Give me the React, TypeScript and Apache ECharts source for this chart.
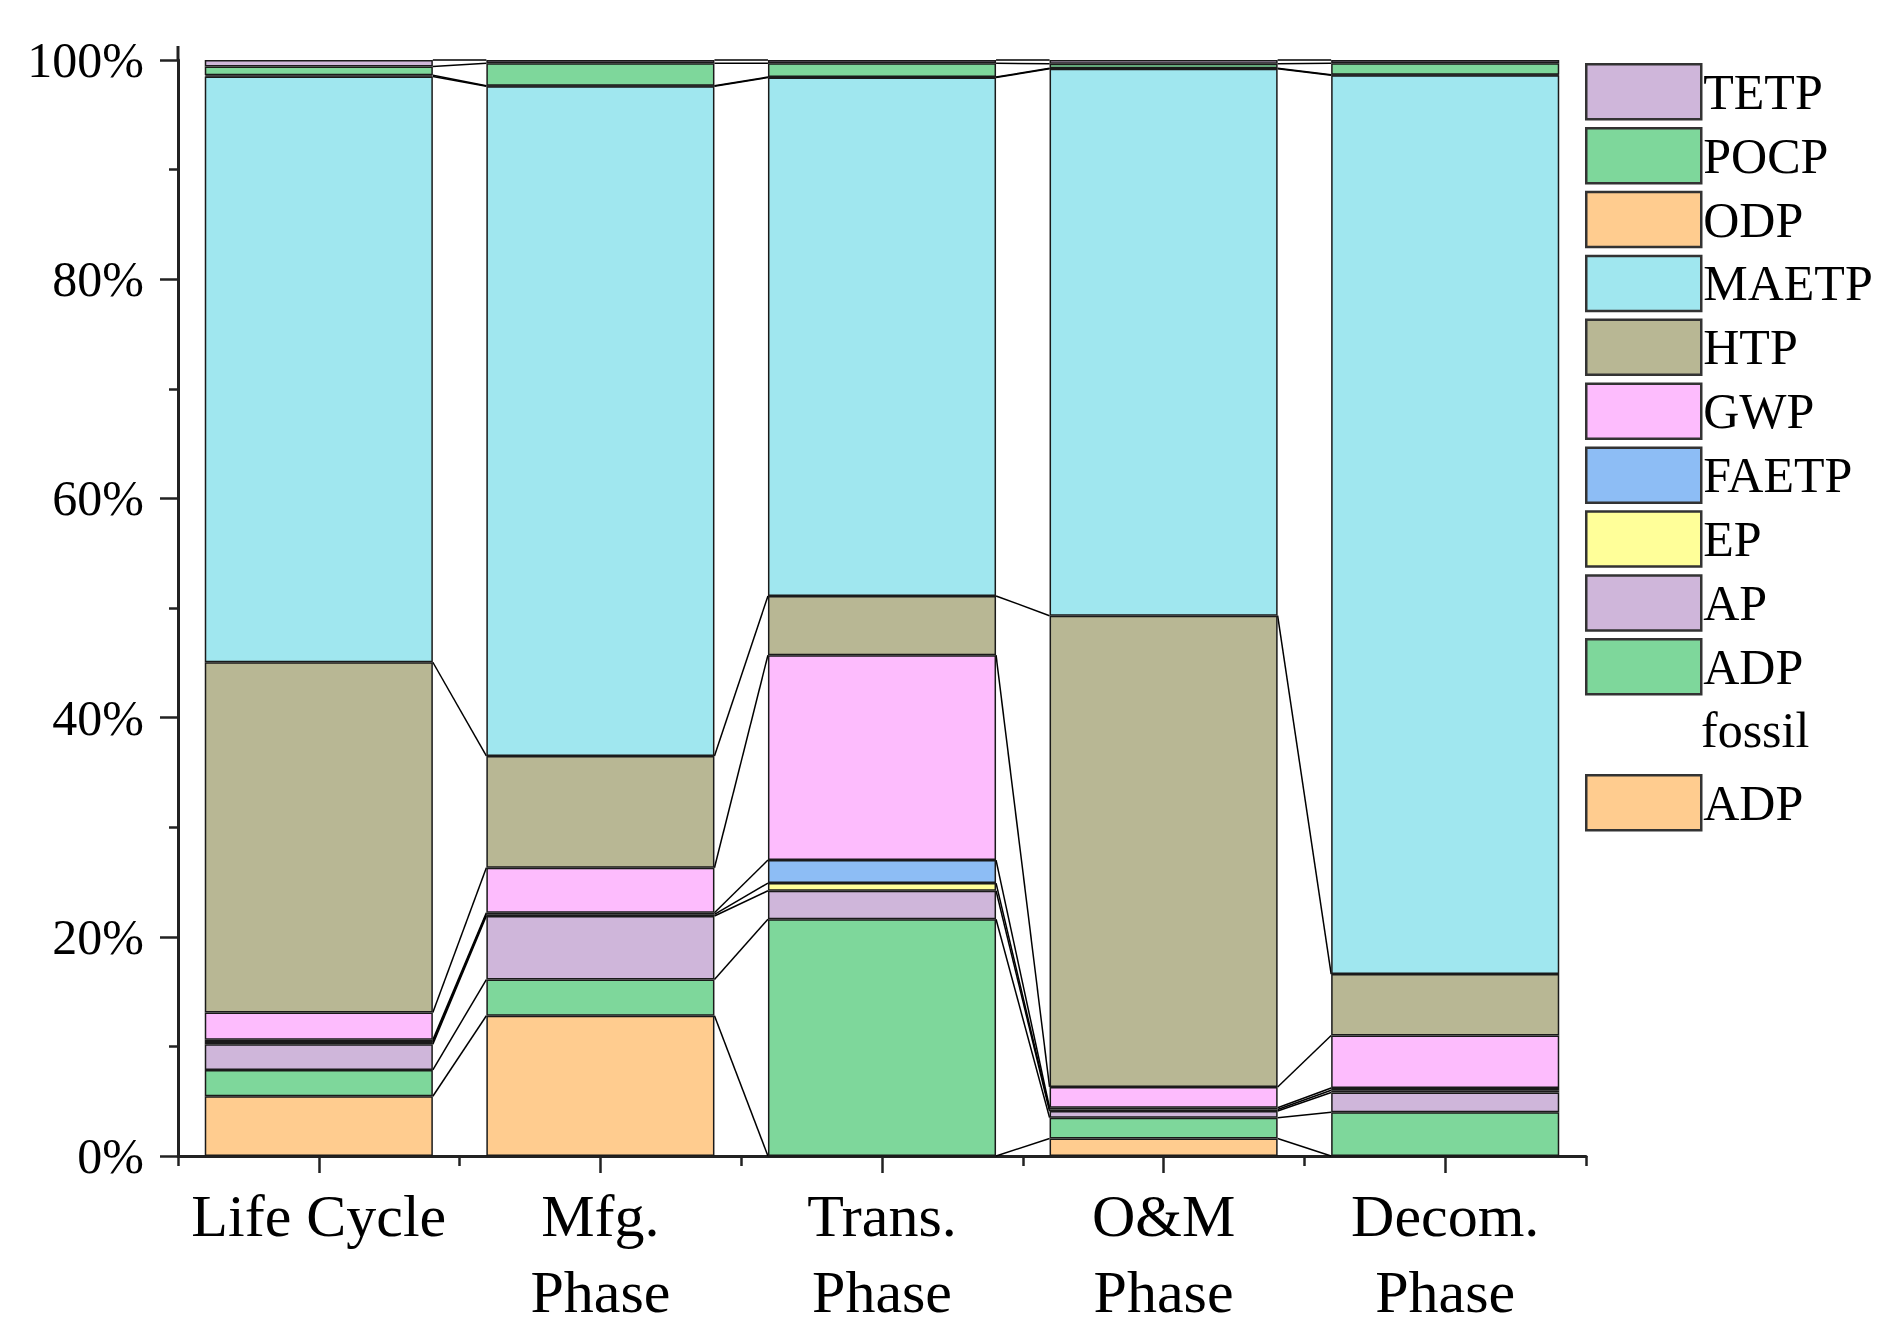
import React, { useEffect, useRef } from 'react';
import * as echarts from 'echarts';

const categories = ['Life Cycle', 'Mfg.\nPhase', 'Trans.\nPhase', 'O&M\nPhase', 'Decom.\nPhase'];

// percent contribution of each indicator (stacked bottom -> top)
const ADP = [5.45, 12.8, 0, 1.6, 0];
const ADP_FOSSIL = [2.4, 3.3, 21.6, 1.9, 4.0];
const AP = [2.35, 5.8, 2.6, 0.6, 1.8];
const EP = [0.2, 0.15, 0.7, 0.15, 0.2];
const FAETP = [0.2, 0.15, 2.1, 0.15, 0.2];
const GWP = [2.5, 4.1, 18.7, 1.9, 4.8];
const HTP = [31.95, 10.2, 5.4, 43.0, 5.6];
const MAETP = [53.45, 61.1, 47.3, 49.9, 82.0];
const ODP = [0.1, 0.05, 0.05, 0.05, 0.05];
const POCP = [0.8, 2.05, 1.25, 0.4, 1.05];
const TETP = [0.6, 0.3, 0.3, 0.35, 0.3];

const seriesNames = ['ADP', 'ADP fossil', 'AP', 'EP', 'FAETP', 'GWP', 'HTP', 'MAETP', 'ODP', 'POCP', 'TETP'];
const seriesValues = [ADP, ADP_FOSSIL, AP, EP, FAETP, GWP, HTP, MAETP, ODP, POCP, TETP];
const seriesColors = ['#FFCC8F', '#7ED79B', '#CFB6DA', '#FFFF99', '#8DBDF5', '#FDBCFD', '#B8B794', '#A0E7EF', '#FFCC8F', '#7ED79B', '#CFB6DA'];

const legendMain = ['TETP', 'POCP', 'ODP', 'MAETP', 'HTP', 'GWP', 'FAETP', 'EP', 'AP', 'ADP fossil'];
const legendLast = ['ADP'];

const BAR_FRAC = 0.81;
const FONT = '"Liberation Serif", "Times New Roman", serif';

export default function App() {
  const ref = useRef<HTMLDivElement>(null);
  useEffect(() => {
    if (!ref.current) return;
    const chart = echarts.init(ref.current, undefined, { renderer: 'svg' });

    // cumulative tops per category
    const cum: number[][] = categories.map((_, ci) => {
      let s = 0;
      return seriesValues.map((arr) => {
        s += arr[ci];
        return s;
      });
    });
    const connectorData: number[][] = [];
    for (let k = 0; k < seriesNames.length; k++) {
      for (let i = 0; i < categories.length - 1; i++) {
        connectorData.push([i, cum[i][k], cum[i + 1][k]]);
      }
    }

    const barSeries = seriesNames.map((name, idx) => ({
      name,
      type: 'bar',
      stack: 'total',
      barWidth: BAR_FRAC * 100 + '%',
      data: seriesValues[idx],
      z: 3,
      itemStyle: {
        color: seriesColors[idx],
        borderColor: '#1a1a1a',
        borderWidth: 1.5,
      },
    }));

    const legendCommon = {
      orient: 'vertical',
      left: 1585,
      padding: 0,
      itemWidth: 115,
      itemHeight: 55,
      itemGap: 6.4,
      icon: 'rect',
      itemStyle: { borderColor: '#333', borderWidth: 2.5 },
      textStyle: { color: '#000', fontFamily: FONT, fontSize: 50, padding: [0, 0, 0, -3] },
    };

    const option: any = {
      animation: false,
      backgroundColor: '#ffffff',
      grid: { left: 178, right: 304, top: 60, bottom: 188, containLabel: false },
      xAxis: [
        {
          type: 'category',
          data: categories,
          axisLine: { show: true, lineStyle: { color: '#222', width: 3 } },
          axisTick: { show: true, alignWithLabel: true, length: 17, lineStyle: { color: '#222', width: 2.5 } },
          axisLabel: {
            color: '#000',
            fontFamily: FONT,
            fontSize: 60,
            lineHeight: 76,
            margin: 22,
            interval: 0,
          },
        },
        {
          type: 'category',
          data: categories,
          position: 'bottom',
          axisLine: { show: false },
          axisTick: { show: true, alignWithLabel: false, length: 10, lineStyle: { color: '#222', width: 2.5 } },
          axisLabel: { show: false },
        },
      ],
      yAxis: {
        type: 'value',
        min: 0,
        max: 100,
        interval: 20,
        axisLine: { show: true, lineStyle: { color: '#222', width: 3 } },
        axisTick: { show: true, length: 18, lineStyle: { color: '#222', width: 2.5 } },
        minorTick: { show: true, splitNumber: 2, length: 9, lineStyle: { color: '#222', width: 2.5 } },
        splitLine: { show: false },
        axisLabel: {
          color: '#000',
          fontFamily: FONT,
          fontSize: 50,
          margin: 34,
          formatter: '{value}%',
        },
      },
      legend: [
        {
          ...legendCommon,
          top: 63,
          data: legendMain,
          formatter: (n: string) => (n === 'ADP fossil' ? 'ADP' : n),
        },
        {
          ...legendCommon,
          top: 774,
          data: legendLast,
        },
      ],
      graphic: [
        {
          type: 'text',
          left: 1701,
          top: 705,
          style: { text: 'fossil', fill: '#000', font: `50px ${FONT}` },
        },
        {
          type: 'line',
          shape: { x1: 178, y1: 46, x2: 178, y2: 61 },
          style: { stroke: '#222', lineWidth: 3 },
        },
      ],
      series: [
        ...barSeries,
        {
          type: 'custom',
          name: 'connectors',
          xAxisIndex: 0,
          yAxisIndex: 0,
          z: 2,
          silent: true,
          encode: { x: 0, y: 1 },
          data: connectorData,
          renderItem: (params: any, api: any) => {
            const i = api.value(0);
            const a = api.coord([i, api.value(1)]);
            const b = api.coord([i + 1, api.value(2)]);
            const band = api.size([1, 0])[0];
            const hw = (band * BAR_FRAC) / 2;
            return {
              type: 'line',
              shape: { x1: a[0] + hw, y1: a[1], x2: b[0] - hw, y2: b[1] },
              style: { stroke: '#000', lineWidth: 1.5 },
            };
          },
        },
      ],
    };
    chart.setOption(option);
    return () => chart.dispose();
  }, []);

  return (
    <div
      ref={ref}
      style={{ position: 'fixed', left: 0, top: 0, width: 1890, height: 1344, background: '#fff' }}
    />
  );
}
